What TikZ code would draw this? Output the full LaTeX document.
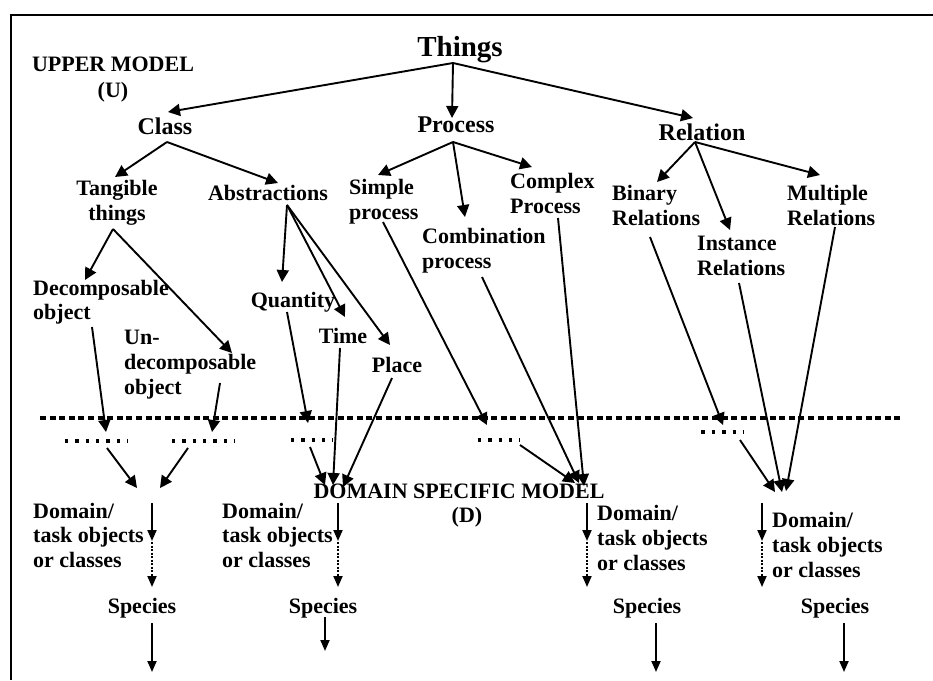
\documentclass[tikz,border=0pt]{standalone}
\usepackage{fontspec}
\setmainfont{Liberation Serif}
\usetikzlibrary{arrows.meta}

\tikzset{
  lbl/.style={font=\fontsize{22}{25}\selectfont\bfseries, inner sep=0pt, align=left},
  lblc/.style={lbl, align=center},
  mid/.style={font=\fontsize{24}{28}\selectfont\bfseries, inner sep=0pt},
  top/.style={font=\fontsize{29}{32}\selectfont\bfseries, inner sep=0pt},
  link/.style={line width=1.9pt, -{Triangle[length=12pt,width=12pt]}},
  slink/.style={line width=1.9pt, -{Triangle[length=11pt,width=9pt]}},
  dlink/.style={line width=1.9pt, dash pattern=on 2pt off 1.5pt, -{Triangle[length=11pt,width=9pt]}},
  dotrow/.style={line width=3.4pt, dash pattern=on 3.4pt off 7pt},
  divider/.style={line width=4.6pt, dash pattern=on 6pt off 3.6pt},
  frame/.style={line width=2pt}
}

\begin{document}
\begin{tikzpicture}[x=1pt,y=-1pt]
\useasboundingbox (0,0) rectangle (933,680);
\fill[white] (0,0) rectangle (933,680);

% frame
\coordinate (fr-a) at (933,15);
\coordinate (fr-b) at (11,15);
\coordinate (fr-c) at (11,680);
\draw[frame] (fr-a) -- (fr-b) -- (fr-c);

% ---------- upper model ----------
% (multi-line nodes are placed by the baseline of their last line)
\node[lblc, font=\fontsize{22}{26}\selectfont\bfseries, anchor=base] (upper) at (113,97) {UPPER MODEL\\(U)};

\node[top, anchor=base] (things) at (460,56) {Things};
\node[mid, anchor=base] (class) at (165,134) {Class};
\node[mid, anchor=base] (process) at (456,132) {Process};
\node[mid, anchor=base] (relation) at (702,140) {Relation};

\node[lblc, anchor=base] (tangible) at (117,220) {Tangible\\things};
\node[lbl, anchor=base] (abstr) at (268,200) {Abstractions};
\node[lbl, anchor=base west] (simple) at (349,219) {Simple\\process};
\node[lbl, anchor=base west] (complex) at (510,213) {Complex\\Process};
\node[lbl, anchor=base west] (combi) at (422,268) {Combination\\process};
\node[lbl, anchor=base west] (binary) at (612,225) {Binary\\Relations};
\node[lbl, anchor=base west] (instance) at (697,275) {Instance\\Relations};
\node[lbl, anchor=base west] (multiple) at (787,225) {Multiple\\Relations};

\node[lbl, font=\fontsize{22}{24}\selectfont\bfseries, anchor=base west] (decomp) at (33,319) {Decomposable\\object};
\node[lbl, anchor=base west] (undecomp) at (124,394) {Un-\\decomposable\\object};
\node[lbl, anchor=base] (quantity) at (293,307) {Quantity};
\node[lbl, anchor=base] (time) at (343,343) {Time};
\node[lbl, anchor=base] (place) at (397,372) {Place};

% ---------- divider ----------
\coordinate (div-w) at (40,418);
\coordinate (div-e) at (902,418);
\draw[divider] (div-w) -- (div-e);

% rows of dots below the divider
\node[inner sep=0pt, minimum width=63pt, minimum height=4pt] (dotsA) at (96.5,441) {};
\node[inner sep=0pt, minimum width=63pt, minimum height=4pt] (dotsB) at (203.5,441) {};
\node[inner sep=0pt, minimum width=42pt, minimum height=4pt] (dotsC) at (312,440) {};
\node[inner sep=0pt, minimum width=42pt, minimum height=4pt] (dotsD) at (499,440) {};
\node[inner sep=0pt, minimum width=42pt, minimum height=4pt] (dotsE) at (722.5,432) {};
\foreach \d in {dotsA,dotsB,dotsC,dotsD,dotsE}
  \draw[dotrow] (\d.west) -- (\d.east);

% ---------- domain specific model ----------
\node[lblc, font=\fontsize{22}{24}\selectfont\bfseries, anchor=base] (dsm) at (459,522) {DOMAIN SPECIFIC MODEL\\\hspace*{16pt}(D)};

\node[lbl, font=\fontsize{22}{24.5}\selectfont\bfseries, anchor=base west] (dom1) at (33,567) {Domain/\\task objects\\or classes};
\node[lbl, font=\fontsize{22}{24.5}\selectfont\bfseries, anchor=base west] (dom2) at (222,567) {Domain/\\task objects\\or classes};
\node[lbl, anchor=base west] (dom3) at (597,570) {Domain/\\task objects\\or classes};
\node[lbl, anchor=base west] (dom4) at (772,577) {Domain/\\task objects\\or classes};

\node[lbl, anchor=base] (spec1) at (142,613) {Species};
\node[lbl, anchor=base] (spec2) at (323,613) {Species};
\node[lbl, anchor=base] (spec3) at (647,613) {Species};
\node[lbl, anchor=base] (spec4) at (835,613) {Species};

% ---------- connector end points ----------
\coordinate (things-s) at (453,63);
\coordinate (class-n) at (168,112);
\coordinate (process-n) at (452,118);
\coordinate (relation-n) at (693,118);
\coordinate (class-s) at (167,142);
\coordinate (process-s) at (453,142);
\coordinate (relation-s) at (695,142);
\coordinate (tangible-n) at (115,177);
\coordinate (abstr-n) at (278,183);
\coordinate (simple-n) at (378,175);
\coordinate (combi-n) at (465,217);
\coordinate (complex-n) at (532,167);
\coordinate (binary-n) at (657,182);
\coordinate (instance-n) at (730,230);
\coordinate (multiple-n) at (820,175);
\coordinate (tangible-s) at (113,229);
\coordinate (abstr-s) at (287,205);
\coordinate (decomp-n) at (85,280);
\coordinate (undecomp-n) at (232,353);
\coordinate (quantity-n) at (282,282);
\coordinate (time-n) at (345,317);
\coordinate (place-n) at (390,345);
\coordinate (decomp-s) at (92,327);
\coordinate (undecomp-s) at (220,383);
\coordinate (quantity-s) at (287,312);
\coordinate (time-s) at (340,348);
\coordinate (place-s) at (392,378);
\coordinate (simple-s) at (383,222);
\coordinate (combi-s) at (482,277);
\coordinate (complex-s) at (558,218);
\coordinate (binary-s) at (650,237);
\coordinate (instance-s) at (739,283);
\coordinate (multiple-s) at (835,227);
\coordinate (inA) at (106,432);
\coordinate (inB) at (212,432);
\coordinate (inC) at (308,423);
\coordinate (inD) at (487,425);
\coordinate (inE) at (723,425);
\coordinate (outA) at (107,448);
\coordinate (outB) at (188,448);
\coordinate (outC) at (310,447);
\coordinate (outD) at (520,445);
\coordinate (outE) at (740,440);
\coordinate (meet1a) at (137,488);
\coordinate (meet1b) at (160,488);
\coordinate (meet2a) at (325,485);
\coordinate (meet2b) at (333,485);
\coordinate (meet2c) at (343,487);
\coordinate (meet3a) at (575,483);
\coordinate (meet3b) at (579,483);
\coordinate (meet3c) at (584,486);
\coordinate (meet4a) at (775,492);
\coordinate (meet4b) at (782,492);
\coordinate (meet4c) at (786,491);

% ---------- upper model links ----------
\draw[link] (things-s) -- (class-n);
\draw[link] (things-s) -- (process-n);
\draw[link] (things-s) -- (relation-n);
\draw[link] (class-s) -- (tangible-n);
\draw[link] (class-s) -- (abstr-n);
\draw[link] (process-s) -- (simple-n);
\draw[link] (process-s) -- (combi-n);
\draw[link] (process-s) -- (complex-n);
\draw[link] (relation-s) -- (binary-n);
\draw[link] (relation-s) -- (instance-n);
\draw[link] (relation-s) -- (multiple-n);
\draw[link] (tangible-s) -- (decomp-n);
\draw[link] (tangible-s) -- (undecomp-n);
\draw[link] (abstr-s) -- (quantity-n);
\draw[link] (abstr-s) -- (time-n);
\draw[link] (abstr-s) -- (place-n);

% ---------- links across the divider ----------
\draw[link] (decomp-s) -- (inA);
\draw[link] (undecomp-s) -- (inB);
\draw[link] (quantity-s) -- (inC);
\draw[link] (simple-s) -- (inD);
\draw[link] (binary-s) -- (inE);

\draw[link] (outA) -- (meet1a);
\draw[link] (outB) -- (meet1b);
\draw[link] (outC) -- (meet2a);
\draw[link] (time-s) -- (meet2b);
\draw[link] (place-s) -- (meet2c);
\draw[link] (outD) -- (meet3a);
\draw[link] (combi-s) -- (meet3b);
\draw[link] (complex-s) -- (meet3c);
\draw[link] (outE) -- (meet4a);
\draw[link] (instance-s) -- (meet4b);
\draw[link] (multiple-s) -- (meet4c);

% ---------- domain columns ----------
\foreach \n/\x in {1/152, 2/338, 3/587, 4/762}{
  \coordinate (c\n-a) at (\x,503);
  \coordinate (c\n-b) at (\x,541);
  \coordinate (c\n-c) at (\x,542);
  \coordinate (c\n-d) at (\x,587);
  \draw[slink] (c\n-a) -- (c\n-b);
  \draw[dlink] (c\n-c) -- (c\n-d);
}

\coordinate (s1-a) at (152,623);  \coordinate (s1-b) at (152,672);
\coordinate (s2-a) at (325,617);  \coordinate (s2-b) at (325,651);
\coordinate (s3-a) at (656,623);  \coordinate (s3-b) at (656,672);
\coordinate (s4-a) at (844,623);  \coordinate (s4-b) at (844,672);
\draw[slink] (s1-a) -- (s1-b);
\draw[slink] (s2-a) -- (s2-b);
\draw[slink] (s3-a) -- (s3-b);
\draw[slink] (s4-a) -- (s4-b);
\end{tikzpicture}
\end{document}
